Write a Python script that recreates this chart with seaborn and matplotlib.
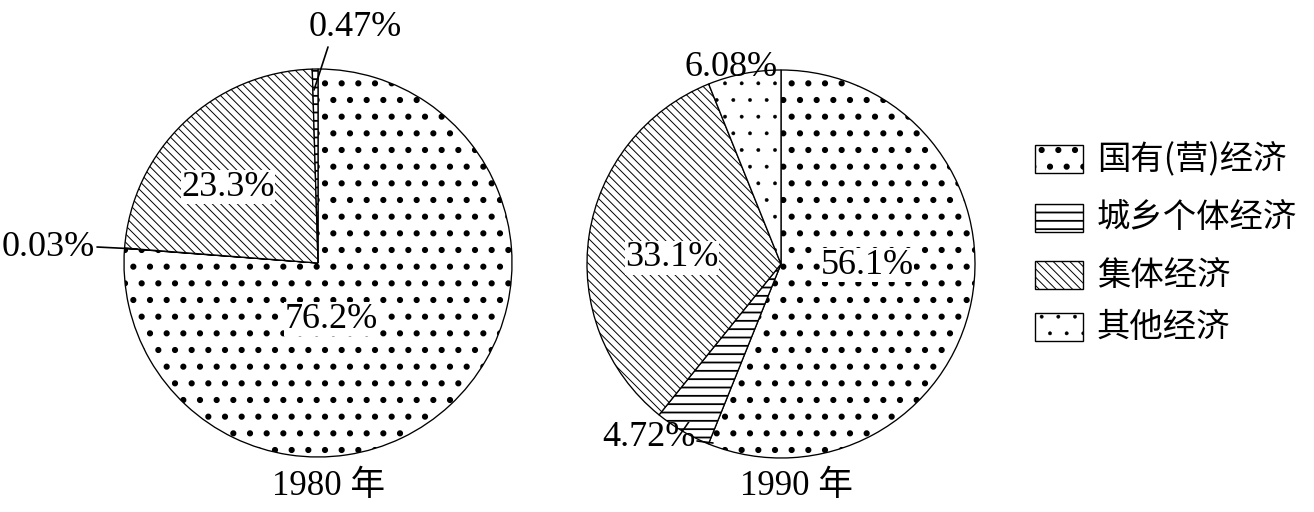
import matplotlib
matplotlib.use("Agg")
import matplotlib.pyplot as plt
from matplotlib.patches import Rectangle
import seaborn as sns

# categories (legend order)
categories = ["国有(营)经济", "城乡个体经济", "集体经济", "其他经济"]
years = ["1980 年", "1990 年"]

# slices, clockwise from 12 o'clock
order_1980 = ["国有(营)经济", "其他经济", "集体经济", "城乡个体经济"]
share_1980 = [76.2, 0.03, 23.3, 0.47]
order_1990 = ["国有(营)经济", "城乡个体经济", "集体经济", "其他经济"]
share_1990 = [56.1, 4.72, 33.1, 6.08]

sns.set_theme(style="white")
plt.rcParams["font.family"] = ["Liberation Serif", "Noto Sans CJK SC"]
plt.rcParams["hatch.color"] = "black"

hatches = {"国有(营)经济": ".", "城乡个体经济": "--", "集体经济": "\\\\\\\\", "其他经济": "."}
hatch_lw = {"国有(营)经济": 2.0, "城乡个体经济": 1.3, "集体经济": 0.7, "其他经济": 0.3}

W, H = 1314, 512
fig = plt.figure(figsize=(W / 100, H / 100), dpi=100)
ax = fig.add_axes([0, 0, 1, 1])


def style_patch(p, cat):
    p.set_hatch(hatches[cat])
    if hasattr(p, "set_hatch_linewidth"):
        p.set_hatch_linewidth(hatch_lw[cat])


def draw_pie(order, shares, cx, cy, r=194):
    wedges, _ = ax.pie(shares, startangle=90, counterclock=False,
                       center=(cx, H - cy), radius=r, frame=True,
                       wedgeprops=dict(facecolor="white", edgecolor="black", linewidth=0.95))
    for w, cat in zip(wedges, order):
        style_patch(w, cat)
        w.set_clip_on(False)


draw_pie(order_1980, share_1980, 318, 263)
draw_pie(order_1990, share_1990, 781, 264)

num_font = dict(fontsize=26, color="black", ha="center", va="center")
box = dict(facecolor="white", edgecolor="none", pad=0.5)

# 1980 labels
pos_1980 = [(331, 319, True), (48, 247, False), (228, 187, True), (355, 27, False)]
for v, (x, y, b) in zip(share_1980, pos_1980):
    ax.text(x, H - y, f"{v:g}%", bbox=box if b else None, **num_font)
ax.plot([328, 314], [H - 47, H - 90], color="black", lw=1.2)
ax.plot([97, 137], [H - 247, H - 249], color="black", lw=1.2)

# 1990 labels
pos_1990 = [(867, 265, True), (649, 437, False), (672, 258, True), (731, 67, False)]
for v, (x, y, b) in zip(share_1990, pos_1990):
    ax.text(x, H - y, f"{v:g}%", bbox=box if b else None, **num_font)
ax.plot([697, 713], [H - 441, H - 443], color="black", lw=1.2)

# year captions
for label, x in zip(years, [329, 797]):
    ax.text(x, H - 487, label, fontsize=25, ha="center", va="center", color="black")

# legend
rows_y = [159, 218, 275, 327]
for cat, y in zip(categories, rows_y):
    rect = Rectangle((1035, H - y - 14), 48, 28, facecolor="white",
                     edgecolor="black", linewidth=1.0)
    style_patch(rect, cat)
    ax.add_patch(rect)
    ax.text(1097, H - y, cat, fontsize=24, ha="left", va="center", color="black",
            family=["Noto Sans CJK SC", "DejaVu Sans"])

ax.set_xlim(0, W)
ax.set_ylim(0, H)
ax.set_aspect("equal")
ax.axis("off")

fig.savefig("out.png", dpi=100, facecolor="white")
